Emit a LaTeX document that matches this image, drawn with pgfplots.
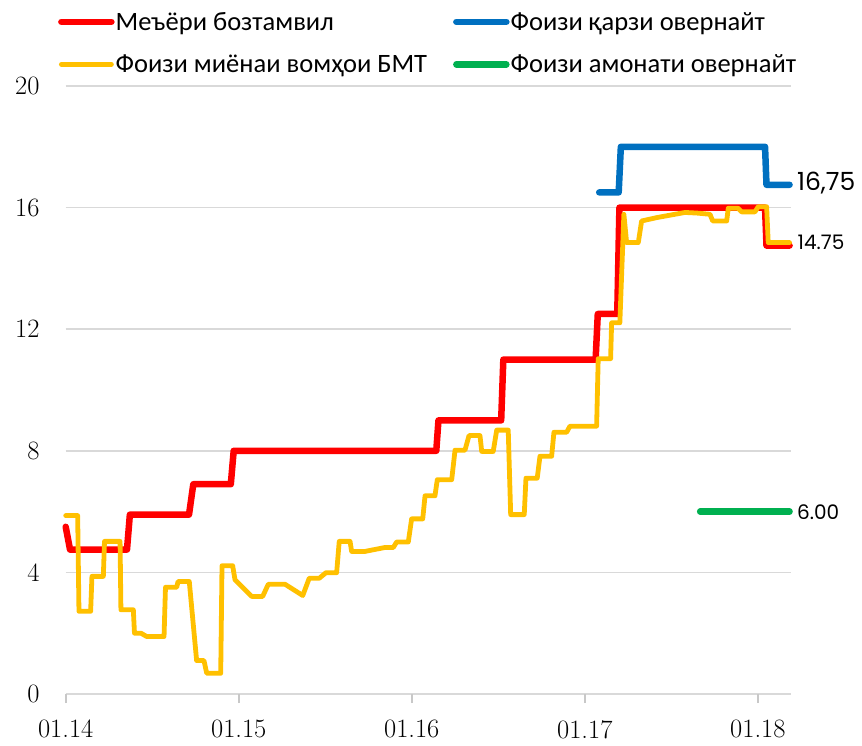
\documentclass[border=0pt]{standalone}
\usepackage{fontspec}
\newfontfamily\legendfont{Carlito}
\newfontfamily\labfont{Poppins}
\usepackage{pgfplots}
\pgfplotsset{compat=1.18}
\definecolor{cred}{HTML}{FF0000}
\definecolor{cyel}{HTML}{FFC000}
\definecolor{cblue}{HTML}{0070C0}
\definecolor{cgreen}{HTML}{00B050}
\definecolor{cgrid}{HTML}{D9D9D9}
\definecolor{caxis}{HTML}{C8C8C8}
\begin{document}
\begin{tikzpicture}
\path[use as bounding box] (0pt,0pt) rectangle (862pt,745pt);
\begin{axis}[
  at={(65.7pt,51pt)}, anchor=south west,
  scale only axis, width=725.3pt, height=608pt,
  xmin=0, xmax=50.3, ymin=0, ymax=20,
  clip=false,
  axis line style={draw=none},
  ytick={0,4,8,12,16,20},
  xtick={0,12,24,36,48},
  xticklabels={01.14,01.15,01.16,01.17,01.18},
  xtick pos=bottom,
  tick align=outside,
  major tick length=9pt,
  xtick style={draw=caxis, line width=1.6pt},
  ytick style={draw=none},
  ymajorgrids,
  grid style={draw=cgrid, line width=1.6pt},
  /pgf/number format/assume math mode=true,
  xticklabel style={font=\fontsize{26.5}{30}\selectfont, inner sep=0pt, yshift=-17pt},
  yticklabel style={font=\fontsize{26.5}{30}\selectfont, inner sep=0pt, xshift=-17pt},
  legend style={draw=none, fill=none, inner sep=0pt,
    at={(axis description cs:-0.0107,1.1235)}, anchor=north west,
    font=\legendfont\fontsize{26.5}{30}\selectfont,
    row sep=21pt,
    nodes={inner sep=1pt},
    /tikz/every even column/.append style={column sep=25pt}},
  legend columns=2,
  legend cell align=left,
  legend image code/.code={\draw[#1, line cap=round] (0pt,0pt) -- (50pt,0pt);},
  every axis plot/.append style={line join=round, line cap=round},
]
% Meyori boztamvil (refinancing rate)
\addplot[cred, line width=6.5pt] coordinates {
(0,5.5) (0.3,4.75) (4.25,4.75) (4.45,5.9) (8.55,5.9) (8.85,6.9) (11.45,6.9) (11.65,8.0)
(25.7,8.0) (25.85,9.0) (30.2,9.0) (30.35,11.0) (36.75,11.0) (36.9,12.5) (38.25,12.5) (38.4,16.0)
(48.5,16.0) (48.6,14.75) (50.2,14.75)
};
\addlegendentry{Меъёри бозтамвил}
% overnight credit
\addplot[cblue, line width=6.5pt] coordinates {
(37.0,16.5) (38.35,16.5) (38.5,18.0) (48.5,18.0) (48.6,16.75) (50.2,16.75)
};
\addlegendentry{Фоизи қарзи овернайт}
% average interbank rate
\addplot[cyel, line width=4.8pt] coordinates {
(0,5.87) (0.83,5.87) (0.92,2.72) (1.73,2.72) (1.82,3.87) (2.61,3.87) (2.69,5.02) (3.77,5.02)
(3.83,2.77) (4.69,2.77) (4.77,2.0) (5.22,2.0) (5.62,1.89) (6.82,1.89) (6.92,3.51) (7.70,3.51)
(7.79,3.70) (8.57,3.70) (9.08,1.10) (9.59,1.10) (9.78,0.68) (10.75,0.68) (10.84,4.22) (11.58,4.22)
(11.74,3.76) (12.90,3.21) (13.66,3.21) (14.05,3.61) (15.21,3.61) (16.44,3.24) (16.89,3.81) (17.59,3.81)
(18.05,3.99) (18.79,3.99) (18.97,5.02) (19.72,5.02) (19.83,4.69) (20.76,4.69) (22.14,4.82) (22.72,4.82)
(22.95,5.0) (23.76,5.0) (23.99,5.76) (24.76,5.76) (24.92,6.52) (25.61,6.52) (25.77,7.05) (26.77,7.05)
(27.0,8.02) (27.69,8.02) (27.97,8.50) (28.73,8.50) (28.85,7.98) (29.65,7.98) (29.89,8.68) (30.69,8.68)
(30.86,5.90) (31.80,5.90) (31.92,7.10) (32.70,7.10) (32.89,7.82) (33.70,7.82) (33.86,8.61) (34.74,8.61)
(34.97,8.81) (36.82,8.81) (36.93,11.03) (37.79,11.03) (37.86,12.21) (38.43,12.21) (38.71,15.78) (38.90,14.85)
(39.71,14.85) (39.94,15.56) (40.98,15.67) (41.90,15.75) (42.95,15.84) (43.78,15.82) (44.68,15.78) (44.87,15.56)
(45.84,15.56) (45.95,15.98) (46.62,15.98) (46.88,15.86) (47.80,15.86) (48.03,16.03) (48.61,16.03) (48.72,14.85)
(50.2,14.85)
};
\addlegendentry{Фоизи миёнаи вомҳои БМТ}
% overnight deposit
\addplot[cgreen, line width=6.5pt] coordinates {
(44.0,6.0) (50.2,6.0)
};
\addlegendentry{Фоизи амонати овернайт}
\node[anchor=base west, inner sep=0pt, font=\labfont\fontsize{25}{28}\selectfont] at (axis cs:50.71,16.55) {16,75};
\node[anchor=base west, inner sep=0pt, font=\labfont\fontsize{20}{24}\selectfont] at (axis cs:50.75,14.63) {14.75};
\node[anchor=base west, inner sep=0pt, font=\labfont\fontsize{20}{24}\selectfont] at (axis cs:50.71,5.73) {6.00};
\end{axis}
\end{tikzpicture}
\end{document}
